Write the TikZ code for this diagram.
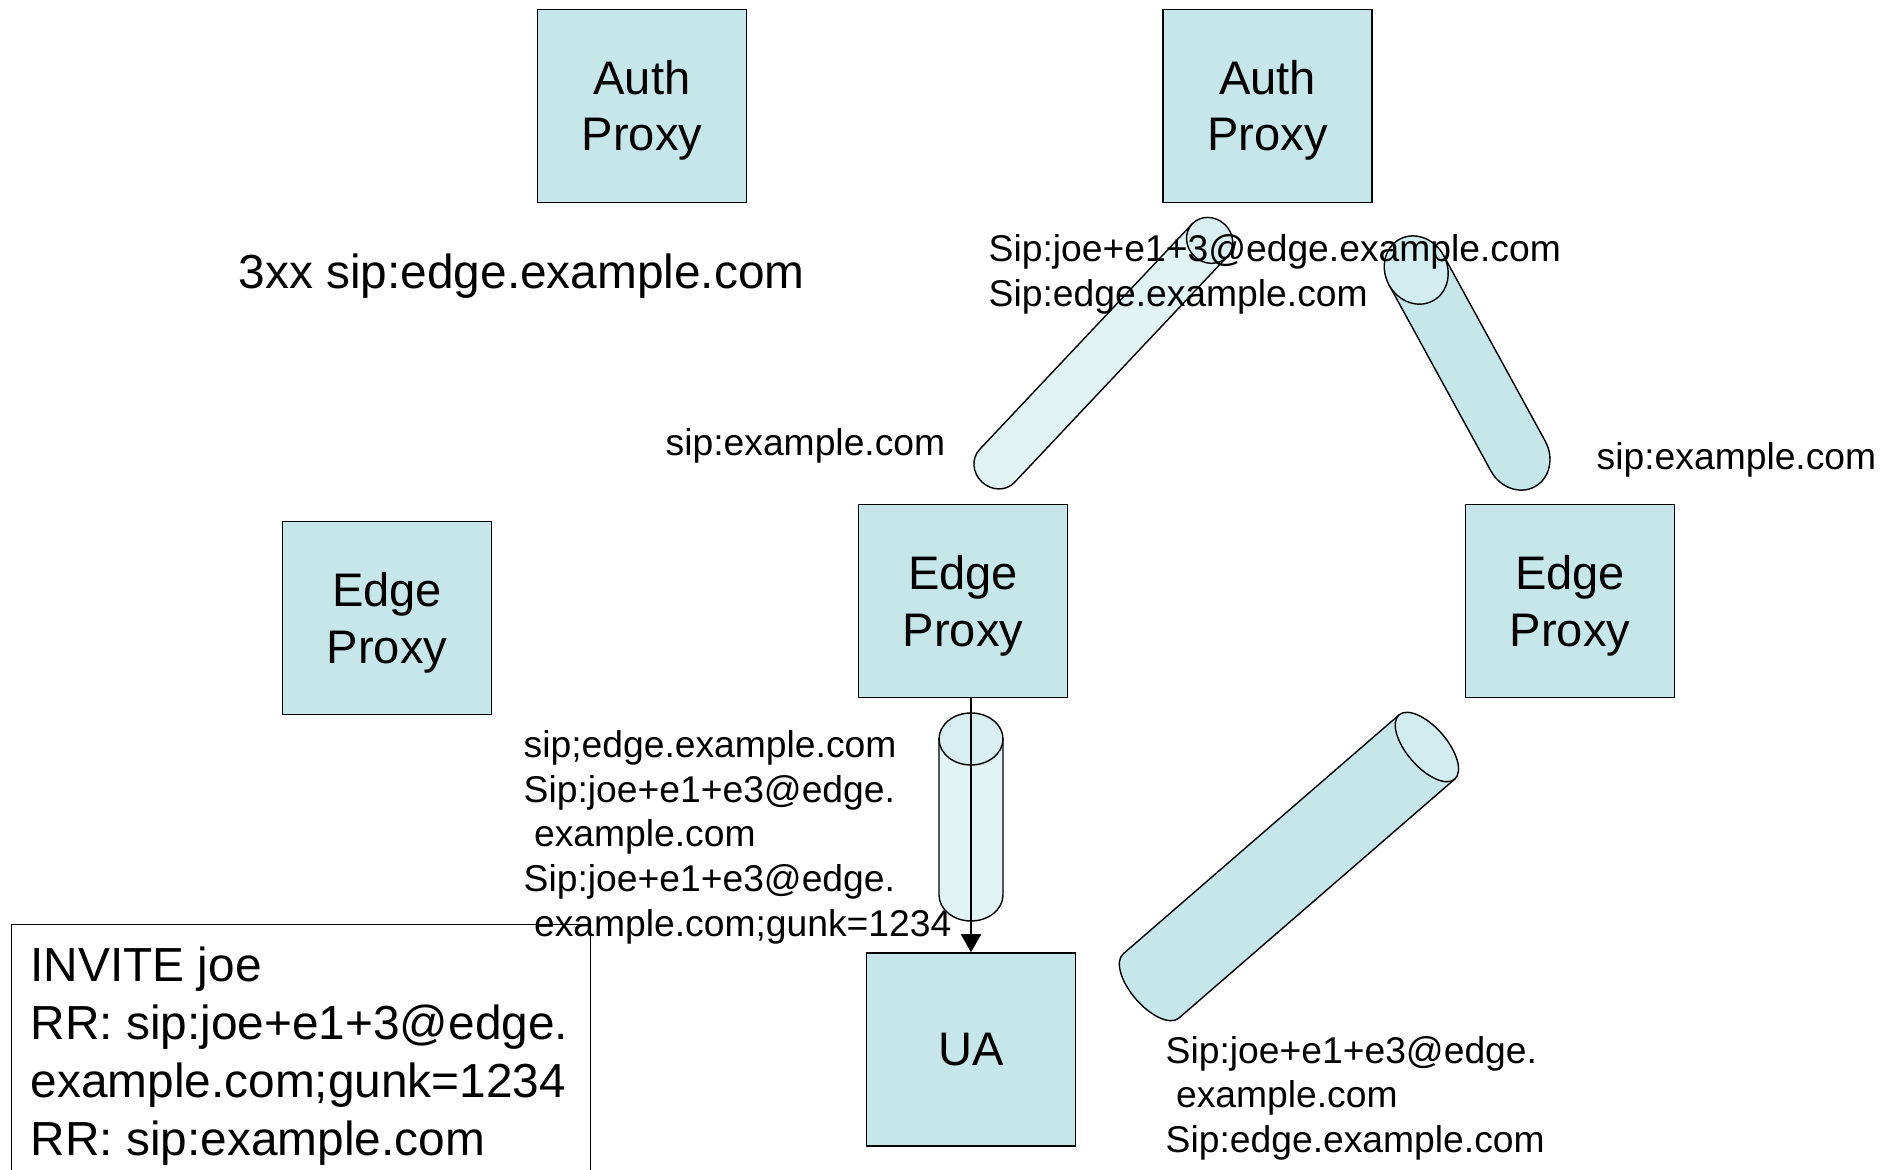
\documentclass[tikz,border=0pt]{standalone}
\usepackage{fontspec}
\setmainfont{Liberation Sans}
\usetikzlibrary{arrows.meta,positioning}
\definecolor{boxfill}{RGB}{198,230,233}
\definecolor{pipefill}{RGB}{226,243,244}
\definecolor{capfill}{RGB}{210,237,240}
\definecolor{pipecap}{RGB}{216,238,240}
%% tunnel: base end, angle, length, radius across, radius along, body, cap
\newcommand{\pipe}[7]{%
\begin{scope}[shift={(#1)},rotate=#2]
\draw[fill=#6](0,-#4)--(#3,-#4)--(#3,#4)--(0,#4)arc[start angle=90,end angle=270,x radius=#5,y radius=#4]--cycle;
\draw[fill=#7](#3,0)ellipse[x radius=#5,y radius=#4];
\end{scope}}
%% strut that sets two-line box texts a little lower
\newcommand{\lowtop}{\rule{0pt}{12.2pt}}
\begin{document}
\begin{tikzpicture}[
proxy/.style={%
draw,
fill=boxfill,
minimum width=2.09cm,
minimum height=1.93cm,
inner sep=0pt,
align=center,
font=\fontsize{13.4}{16.2}\selectfont
},
uri/.style={inner sep=0pt,align=left,font=\fontsize{10.6}{12.7}\selectfont},
big/.style={inner sep=0pt,align=left,font=\fontsize{13.6}{16.5}\selectfont}
]
\useasboundingbox(0,0)rectangle(18.97,11.70);
\clip(0,0)rectangle(18.97,11.70);
%% Proxies
\node[proxy]at(6.42,10.64)(auth1){\lowtop Auth\\Proxy};
\node[proxy]at(12.675,10.64)(auth2){\lowtop Auth\\Proxy};
\node[proxy]at(3.87,5.52)(edgeL){\lowtop Edge\\Proxy};
\node[proxy]at(9.63,5.69)(edgeM){\lowtop Edge\\Proxy};
\node[proxy]at(15.70,5.69)(edgeR){\lowtop Edge\\Proxy};
\node[proxy]at(9.71,1.205)(UA){UA};
%% Tunnels
\pipe{9.97,7.04}{46.7}{3.10}{0.24}{0.22}{pipefill}{pipecap}
\pipe{15.18,7.14}{118.7}{2.12}{0.31}{0.35}{boxfill}{capfill}
\pipe{9.71,2.75}{90}{1.56}{0.32}{0.26}{pipefill}{pipecap}
\pipe{11.51,1.84}{40.9}{3.65}{0.425}{0.20}{boxfill}{capfill}
%% Request
\draw[-{Triangle[length=5.2pt,width=5.8pt]}](edgeM.south-|UA.north)--(UA.north);
%% Labels
\node[big,anchor=base west]at(2.38,8.81)(redir){3xx sip:edge.example.com};
\node[uri,anchor=north west]at(9.88,9.36)(rrup){Sip:joe+e1+3@edge.example.com\\Sip:edge.example.com};
\node[uri,anchor=base west]at(6.65,7.14)(pathM){sip:example.com};
\node[uri,anchor=base west]at(15.96,7.00)(pathR){sip:example.com};
\node[uri,anchor=north west]at(5.23,4.40)(rrdown){sip;edge.example.com\\Sip:joe+e1+e3@edge.\\~example.com\\Sip:joe+e1+e3@edge.\\~example.com;gunk=1234};
\node[uri,anchor=north west]at(11.65,1.345)(rrbot){Sip:joe+e1+e3@edge.\\~example.com\\Sip:edge.example.com};
%% Message
\node[draw,anchor=north west,minimum width=5.79cm,minimum height=2.8cm,inner sep=0pt](inviteframe)at(0.11,2.46){};
\node[big,anchor=north west](invite)at([xshift=0.19cm,yshift=-0.22cm]inviteframe.north west){INVITE joe\\RR: sip:joe+e1+3@edge.\\example.com;gunk=1234\\RR: sip:example.com};
\end{tikzpicture}
\end{document}
